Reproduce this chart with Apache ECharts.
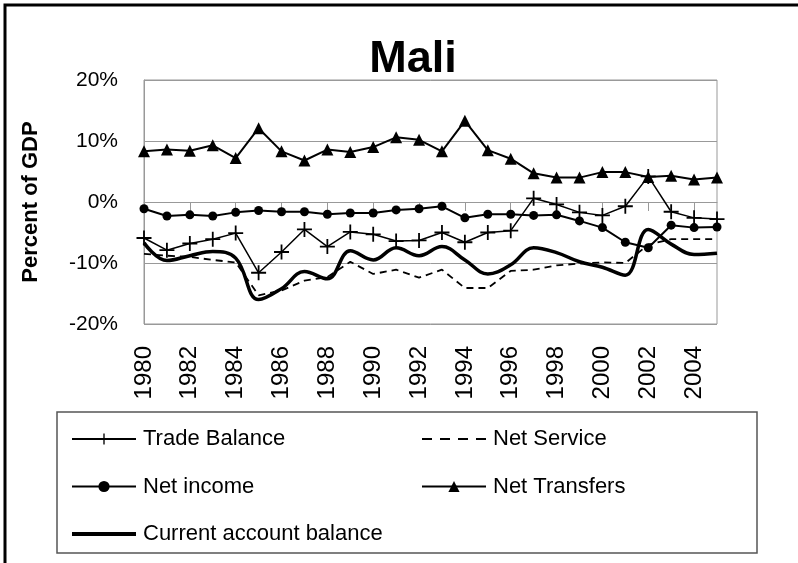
<!DOCTYPE html>
<html lang="en">
<head>
    <meta charset="UTF-8">
    <title>Mali</title>
    <script src="https://cdn.jsdelivr.net/npm/echarts@6/dist/echarts.min.js"></script>
    <style>
        body { margin: 0; background: #fff; }
    </style>
</head>
<body>
    <div id="main" style="width: 798px; height: 563px;"></div>
    <script>
        const years = ['1980', '1981', '1982', '1983', '1984', '1985', '1986', '1987', '1988', '1989',
            '1990', '1991', '1992', '1993', '1994', '1995', '1996', '1997', '1998', '1999',
            '2000', '2001', '2002', '2003', '2004', '2005'];

        const tradeBalance = [-5.9, -7.9, -6.8, -6.1, -5.1, -11.6, -8.2, -4.5, -7.3, -4.9,
            -5.3, -6.4, -6.3, -5.0, -6.6, -5.0, -4.7, 0.6, -0.4, -1.7,
            -2.2, -0.7, 4.2, -1.6, -2.6, -2.8];
        const netService = [-8.5, -8.8, -9.0, -9.5, -9.9, -15.3, -14.5, -12.9, -12.3, -9.8,
            -11.8, -11.1, -12.4, -11.1, -14.1, -14.1, -11.3, -11.1, -10.4, -10.1,
            -9.9, -10.0, -7.0, -6.1, -6.1, -6.1];
        const netIncome = [-1.1, -2.3, -2.1, -2.3, -1.7, -1.4, -1.6, -1.6, -2.0, -1.8,
            -1.8, -1.3, -1.1, -0.7, -2.6, -2.0, -2.0, -2.2, -2.1, -3.1,
            -4.2, -6.6, -7.5, -3.8, -4.2, -4.1];
        const netTransfers = [8.3, 8.6, 8.4, 9.3, 7.2, 12.1, 8.3, 6.8, 8.6, 8.2,
            9.0, 10.6, 10.2, 8.3, 13.3, 8.5, 7.1, 4.7, 4.0, 4.0,
            4.9, 4.9, 4.1, 4.3, 3.7, 4.0];
        const currentAccount = [-6.7, -9.6, -8.8, -8.1, -9.2, -16.0, -14.2, -11.4, -12.6, -8.0,
            -9.5, -7.5, -8.8, -7.3, -9.5, -11.8, -10.3, -7.5, -8.3, -9.8,
            -10.7, -12.0, -4.5, -6.9, -8.6, -8.4];

        const plusIcon = 'path://M4.4,0 H5.6 V4.4 H10 V5.6 H5.6 V10 H4.4 V5.6 H0 V4.4 H4.4 Z';
        // legend icons for the series without markers (tiny corner dots keep the 64x14 box)
        const dashIcon = 'path://M0,0 H0.01 V0.01 Z M0,6 H10 V8 H0 Z M18,6 H28 V8 H18 Z M36,6 H46 V8 H36 Z M54,6 H64 V8 H54 Z M0,14 H0.01 V13.99 Z';
        const thickIcon = 'path://M0,0 H0.01 V0.01 Z M0,5 H64 V9 H0 Z M0,14 H0.01 V13.99 Z';
        const font = 'Liberation Sans, Arial, sans-serif';

        const legendText = { fontFamily: font, fontSize: 22, color: '#000', padding: [0, 0, 0, 2] };

        const option = {
            animation: false,
            title: {
                text: 'Mali',
                left: 408,
                textAlign: 'center',
                top: 32,
                textStyle: { fontFamily: font, fontSize: 45, fontWeight: 'bold', color: '#000' }
            },
            grid: {
                left: 144, right: 81, top: 80, bottom: 239,
                show: true, borderColor: '#999', borderWidth: 1
            },
            legend: [
                {
                    data: ['Trade Balance', 'Net income', { name: 'Current account balance', icon: thickIcon }],
                    orient: 'vertical',
                    left: 66, top: 423,
                    itemWidth: 64, itemHeight: 14, itemGap: 25.5,
                    textStyle: legendText
                },
                {
                    data: [{ name: 'Net Service', icon: dashIcon }, 'Net Transfers'],
                    orient: 'vertical',
                    left: 416, top: 423,
                    itemWidth: 64, itemHeight: 14, itemGap: 25.5,
                    textStyle: legendText
                }
            ],
            xAxis: {
                type: 'category',
                data: years,
                boundaryGap: false,
                axisLine: { lineStyle: { color: '#999' } },
                axisTick: { show: true, interval: 1, length: 9, lineStyle: { color: '#999' } },
                axisLabel: { interval: 1, rotate: 90, margin: 22, color: '#000', fontFamily: font, fontSize: 24 },
                splitLine: { show: false }
            },
            yAxis: {
                type: 'value',
                min: -20, max: 20, interval: 10,
                name: 'Percent of GDP',
                nameLocation: 'middle',
                nameRotate: 90,
                nameGap: 102,
                nameTextStyle: { fontFamily: font, fontSize: 22, fontWeight: 'bold', color: '#000' },
                axisLine: { show: true, lineStyle: { color: '#999' } },
                axisTick: { show: false },
                axisLabel: { formatter: '{value}%', margin: 26, color: '#000', fontFamily: font, fontSize: 21 },
                splitLine: { lineStyle: { color: '#999' } }
            },
            graphic: [
                {
                    type: 'rect', silent: true,
                    shape: { x: 5, y: 5, width: 900, height: 700 },
                    style: { fill: 'none', stroke: '#000', lineWidth: 3 }
                },
                {
                    type: 'rect', silent: true,
                    shape: { x: 57, y: 412, width: 700, height: 141 },
                    style: { fill: 'none', stroke: '#555', lineWidth: 1.5 }
                }
            ],
            series: [
                {
                    name: 'Trade Balance', type: 'line', data: tradeBalance,
                    symbol: plusIcon, symbolSize: 15, showAllSymbol: true,
                    lineStyle: { color: '#000', width: 1.5 }, itemStyle: { color: '#000' }, z: 5
                },
                {
                    name: 'Net Service', type: 'line', data: netService,
                    symbol: 'none',
                    lineStyle: { color: '#000', width: 1.8, type: [7, 5] }, itemStyle: { color: '#000' }, z: 3
                },
                {
                    name: 'Net income', type: 'line', data: netIncome,
                    symbol: 'circle', symbolSize: 9, showAllSymbol: true,
                    lineStyle: { color: '#000', width: 2 }, itemStyle: { color: '#000' }, z: 4
                },
                {
                    name: 'Net Transfers', type: 'line', data: netTransfers,
                    symbol: 'triangle', symbolSize: 12, showAllSymbol: true,
                    lineStyle: { color: '#000', width: 2 }, itemStyle: { color: '#000' }, z: 4
                },
                {
                    name: 'Current account balance', type: 'line', data: currentAccount,
                    symbol: 'none', smooth: 0.4,
                    lineStyle: { color: '#000', width: 3.5 }, itemStyle: { color: '#000' }, z: 2
                }
            ]
        };

        const myChart = echarts.init(document.getElementById('main'));
        myChart.setOption(option);
    </script>
</body>
</html>
